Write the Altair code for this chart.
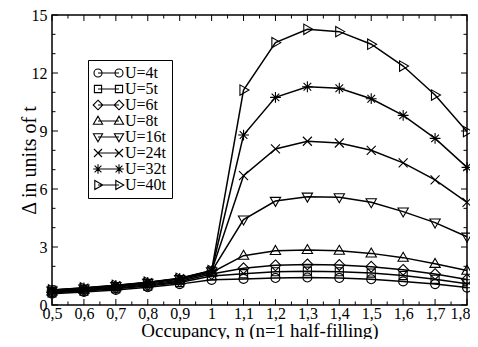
import altair as alt
import pandas as pd

# ---------------- data ----------------
n_values = [0.5, 0.6, 0.7, 0.8, 0.9, 1.0, 1.1, 1.2, 1.3, 1.4, 1.5, 1.6, 1.7, 1.8]
series_labels = ["U=4t", "U=5t", "U=6t", "U=8t", "U=16t", "U=24t", "U=32t", "U=40t"]

gap_U4 = [0.58, 0.67, 0.78, 0.92, 1.08, 1.30, 1.35, 1.40, 1.42, 1.40, 1.33, 1.22, 1.08, 0.90]
gap_U5 = [0.63, 0.72, 0.84, 0.98, 1.16, 1.50, 1.62, 1.72, 1.75, 1.72, 1.65, 1.52, 1.33, 1.10]
gap_U6 = [0.66, 0.76, 0.88, 1.03, 1.22, 1.60, 1.90, 2.05, 2.10, 2.07, 1.98, 1.82, 1.60, 1.32]
gap_U8 = [0.70, 0.80, 0.93, 1.08, 1.28, 1.68, 2.55, 2.80, 2.85, 2.81, 2.67, 2.45, 2.13, 1.78]
gap_U16 = [0.74, 0.85, 0.98, 1.14, 1.34, 1.74, 4.42, 5.38, 5.60, 5.57, 5.31, 4.83, 4.26, 3.53]
gap_U24 = [0.76, 0.87, 1.00, 1.16, 1.36, 1.76, 6.69, 8.07, 8.47, 8.38, 8.00, 7.35, 6.47, 5.31]
gap_U32 = [0.77, 0.88, 1.01, 1.17, 1.37, 1.77, 8.79, 10.74, 11.29, 11.21, 10.67, 9.81, 8.62, 7.12]
gap_U40 = [0.78, 0.89, 1.02, 1.18, 1.38, 1.78, 11.12, 13.57, 14.26, 14.14, 13.49, 12.36, 10.86, 8.97]

x_major_ticks = [0.5, 0.6, 0.7, 0.8, 0.9, 1.0, 1.1, 1.2, 1.3, 1.4, 1.5, 1.6, 1.7, 1.8]
x_minor_ticks = [0.55, 0.65, 0.75, 0.85, 0.95, 1.05, 1.15, 1.25, 1.35, 1.45, 1.55, 1.65, 1.75]
y_major_ticks = [0, 3, 6, 9, 12, 15]
y_minor_ticks = [1, 2, 4, 5, 7, 8, 10, 11, 13, 14]

all_gaps = [gap_U4, gap_U5, gap_U6, gap_U8, gap_U16, gap_U24, gap_U32, gap_U40]

rows = []
for lab, gaps in zip(series_labels, all_gaps):
    for n, g in zip(n_values, gaps):
        rows.append({"U": lab, "n": n, "gap": g})
df = pd.DataFrame(rows)

# ---------------- marker shapes (SVG paths, unit radius) ----------------
def circle(c):
    return f"M{c-1},0A1,1,0,1,1,{c+1},0A1,1,0,1,1,{c-1},0Z"

def square(c):
    return f"M{c-0.9},-0.9H{c+0.9}V0.9H{c-0.9}Z"

def diamond(c):
    return f"M{c},-1.2L{c+1.2},0L{c},1.2L{c-1.2},0Z"

def tri_up(c):
    return f"M{c},-1.2L{c+1.15},0.8H{c-1.15}Z"

def tri_down(c):
    return f"M{c},1.2L{c+1.15},-0.8H{c-1.15}Z"

def xmark(c):
    return f"M{c-1},-1L{c+1},1M{c-1},1L{c+1},-1"

def star(c):
    return (f"M{c-0.85},-0.85L{c+0.85},0.85M{c-0.85},0.85L{c+0.85},-0.85"
            f"M{c-1.2},0H{c+1.2}M{c},-1.2V1.2")

def tri_right(c):
    return f"M{c+1.2},0L{c-0.8},1.15V-1.15Z"

makers = [circle, square, diamond, tri_up, tri_down, xmark, star, tri_right]
plot_shapes = [m(0) for m in makers]
legend_shapes = [m(-0.75) + m(4.5) + "M-0.75,0H4.5" for m in makers]

W, H = 415, 290
FONT = "Liberation Serif, Times New Roman, Times, serif"

x_scale = alt.Scale(domain=[0.5, 1.8], nice=False, zero=False)
y_scale = alt.Scale(domain=[0, 15], nice=False)

x_axis = alt.Axis(
    values=x_major_ticks,
    labelExpr="datum.value == 1 ? '1' : replace(format(datum.value, '.1f'), '.', ',')",
    title="Occupancy, n (n=1 half-filling)",
    labelPadding=0,
    labelFlush=False,
    labelOverlap=False,
    labelSeparation=0,
    labelOffset={"condition": {"test": "datum.value > 1.75", "value": -7}, "value": 0},
    titleBaseline="alphabetic",
    titleY=31,
    titleFontSize=19,
)
y_axis = alt.Axis(
    values=y_major_ticks,
    title="Δ in units of t",
    labelPadding=5,
    labelFlush=False,
    labelOverlap=False,
    titleBaseline="alphabetic",
    titleX=-17,
    titleFontSize=20,
)

X = lambda f: alt.X(f, scale=x_scale, axis=x_axis)
Y = lambda f: alt.Y(f, scale=y_scale, axis=y_axis)

base = alt.Chart(df)

lines = base.mark_line(color="black", strokeWidth=1.5).encode(
    x=X("n:Q"),
    y=Y("gap:Q"),
    detail="U:N",
    order="n:Q",
)

points = base.mark_point(filled=False, color="black", strokeWidth=1.1, size=81, opacity=1).encode(
    x=X("n:Q"),
    y=Y("gap:Q"),
    shape=alt.Shape("U:N", scale=alt.Scale(domain=series_labels, range=plot_shapes), legend=None),
)

legend_layer = base.transform_filter("false").mark_point(
    filled=False, color="black", strokeWidth=1.1, size=64, opacity=1
).encode(
    x=X("n:Q"),
    y=Y("gap:Q"),
    shape=alt.Shape(
        "U:N",
        scale=alt.Scale(domain=series_labels, range=legend_shapes),
        legend=alt.Legend(
            title=None,
            orient="none",
            legendX=36,
            legendY=45,
            symbolSize=64,
            symbolStrokeColor="black",
            symbolStrokeWidth=1.1,
            symbolFillColor="transparent",
            labelOffset=16,
            labelFont=FONT,
            labelFontSize=16,
            labelColor="black",
            rowPadding=0,
            padding=5,
            strokeColor="black",
            fillColor="white",
        ),
    ),
)

# inward tick marks on all four sides
xmaj = pd.DataFrame({"t": x_major_ticks})
xmin = pd.DataFrame({"t": x_minor_ticks})
ymaj = pd.DataFrame({"t": y_major_ticks})
ymin = pd.DataFrame({"t": y_minor_ticks})

def xticks(d, length):
    bottom = alt.Chart(d).mark_rule(color="black", strokeWidth=1).encode(
        x=X("t:Q"), y=alt.value(H), y2=alt.value(H - length))
    top = alt.Chart(d).mark_rule(color="black", strokeWidth=1).encode(
        x=X("t:Q"), y=alt.value(0), y2=alt.value(length))
    return [bottom, top]

def yticks(d, length):
    left = alt.Chart(d).mark_rule(color="black", strokeWidth=1).encode(
        y=Y("t:Q"), x=alt.value(0), x2=alt.value(length))
    right = alt.Chart(d).mark_rule(color="black", strokeWidth=1).encode(
        y=Y("t:Q"), x=alt.value(W), x2=alt.value(W - length))
    return [left, right]

tick_layers = xticks(xmaj, 6) + xticks(xmin, 3.5) + yticks(ymaj, 6) + yticks(ymin, 3.5)

chart = alt.layer(lines, points, legend_layer, *tick_layers).resolve_scale(
    shape="independent"
).properties(
    width=W,
    height=H,
    autosize=alt.AutoSizeParams(type="none"),
    padding={"left": 44, "top": 7, "right": 3, "bottom": 34},
    background="white",
).configure_view(
    stroke="black", strokeWidth=1.5
).configure_axis(
    domain=False, ticks=False, grid=False, labelOverlap=False,
    labelFont=FONT, labelFontSize=16, labelColor="black",
    titleFont=FONT, titleFontSize=20, titleFontWeight="normal", titleColor="black",
)

chart.save("out.html", embed_options={"renderer": "svg", "actions": False})
